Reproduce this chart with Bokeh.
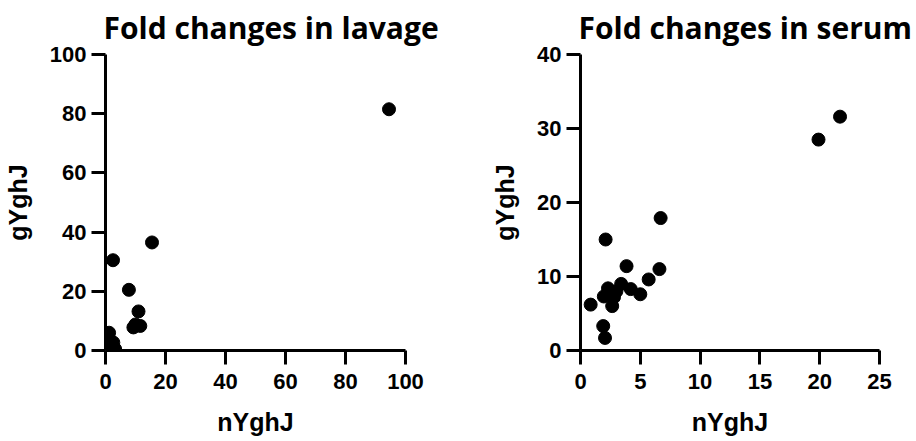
from bokeh.plotting import figure
from bokeh.models import Range1d, FixedTicker
from bokeh.layouts import row
from bokeh.embed import file_html
from bokeh.resources import INLINE

# Lavage fold changes
lav_x = [94.5, 15.5, 2.5, 7.8, 11.0, 9.3, 11.6, 10.0, 1.2, 0.5, 2.6, 3.2, 0.2, 1.5]
lav_y = [81.5, 36.5, 30.5, 20.5, 13.2, 7.8, 8.3, 8.8, 6.0, 2.5, 2.7, 0.5, 1.2, 3.5]
lav_xticks = [0, 20, 40, 60, 80, 100]
lav_yticks = [0, 20, 40, 60, 80, 100]

# Serum fold changes
ser_x = [21.7, 19.9, 6.7, 2.1, 6.6, 3.85, 5.7, 3.4, 4.2, 5.0, 2.3, 1.95, 2.8, 2.65, 0.85, 1.9, 2.05, 3.0]
ser_y = [31.6, 28.5, 17.9, 15.0, 11.0, 11.4, 9.6, 9.0, 8.3, 7.6, 8.4, 7.3, 7.2, 6.0, 6.2, 3.3, 1.7, 8.0]
ser_xticks = [0, 5, 10, 15, 20, 25]
ser_yticks = [0, 10, 20, 30, 40]

x_label = "nYghJ"
y_label = "gYghJ"


def make_panel(title, xs, ys, xr, yr, xt, yt, width, border_left, border_right):
    p = figure(width=width, height=441, output_backend="svg", toolbar_location=None,
               x_range=Range1d(*xr), y_range=Range1d(*yr),
               min_border_left=border_left, min_border_right=border_right,
               min_border_top=54, min_border_bottom=91, title=title)
    p.title.text_font = "Open Sans"
    p.title.text_font_style = "bold"
    p.title.text_font_size = "30px"
    p.title.text_color = "black"
    p.title.align = "left"
    p.title.vertical_align = "top"
    p.title.offset = -2
    p.title.standoff = 10
    p.outline_line_color = None
    p.grid.visible = False
    p.circle(xs, ys, radius=6.5, radius_units="screen", color="black")
    for ax, ticks in ((p.xaxis[0], xt), (p.yaxis[0], yt)):
        ax.ticker = FixedTicker(ticks=ticks)
        ax.minor_tick_line_color = None
        ax.major_tick_in = 0
        ax.major_tick_out = 14
        ax.major_tick_line_width = 3
        ax.axis_line_width = 3
        ax.axis_line_color = "black"
        ax.major_tick_line_color = "black"
        ax.major_label_text_font = "Liberation Sans"
        ax.major_label_text_font_style = "bold"
        ax.major_label_text_font_size = "22px"
        ax.major_label_text_color = "black"
        ax.axis_label_text_font = "Liberation Sans"
        ax.axis_label_text_font_style = "bold"
        ax.axis_label_text_font_size = "25px"
        ax.axis_label_text_color = "black"
    p.xaxis.axis_label = x_label
    p.yaxis.axis_label = y_label
    p.xaxis.major_label_standoff = 9
    p.yaxis.major_label_standoff = 5
    p.xaxis.axis_label_standoff = 16
    p.yaxis.axis_label_standoff = 15
    return p


p1 = make_panel("Fold changes in lavage", lav_x, lav_y, (0, 100), (0, 100),
                lav_xticks, lav_yticks, 460, 105, 55)
p2 = make_panel("Fold changes in serum", ser_x, ser_y, (0, 25), (0, 40),
                ser_xticks, ser_yticks, 456, 120, 37)

layout = row(p1, p2)
open("out.html", "w").write(file_html(layout, INLINE))
